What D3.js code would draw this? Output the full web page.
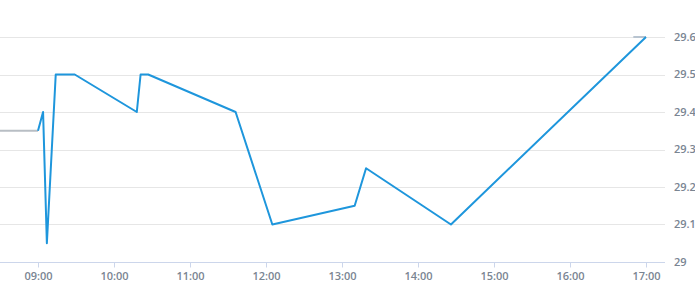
<!DOCTYPE html>
<html lang=en>
<meta charset=utf-8>
<title>Intraday price</title>
<style>
    body { margin: 0; background: #fff; }
    svg text { font-family: "Open Sans", sans-serif; font-size: 11px; font-weight: 600; fill: #7a8592; }
</style>
<svg id=chart width=695 height=300></svg>
<script src=https://d3js.org/d3.v7.min.js></script>
<script>
// price ticks (time of day, price)
var times  = ['09:00', '09:04', '09:07', '09:14', '09:29', '10:18', '10:21', '10:27', '11:36', '12:05', '13:10', '13:19', '14:26', '17:00'];
var prices = [29.35, 29.4, 29.05, 29.5, 29.5, 29.4, 29.5, 29.5, 29.4, 29.1, 29.15, 29.25, 29.1, 29.6];

// grey segments outside the session
var preTimes  = ['08:30', '09:00'];
var prePrices = [29.35, 29.35];
var postTimes  = ['16:50', '17:00'];
var postPrices = [29.6, 29.6];

var yTicks = [29, 29.1, 29.2, 29.3, 29.4, 29.5, 29.6];
var xTicks = ['09:00', '10:00', '11:00', '12:00', '13:00', '14:00', '15:00', '16:00', '17:00'];

var parse = d3.timeParse('%H:%M');

var svg = d3.select('#chart');
var plotW = 665, plotBottom = 262;

var x = d3.scaleTime().domain([parse('08:30'), parse('17:15')]).range([0, plotW]);
var y = d3.scaleLinear().domain([29, 29.6]).range([plotBottom, 37]);

// grid lines
svg.append('g')
    .selectAll('line')
    .data(yTicks.slice(1))
    .join('line')
    .attr('x1', 0).attr('x2', plotW)
    .attr('y1', function (d) { return Math.round(y(d)) + 0.5; })
    .attr('y2', function (d) { return Math.round(y(d)) + 0.5; })
    .attr('stroke', '#e6e6e6');

// y labels on the right
svg.append('g')
    .selectAll('text')
    .data(yTicks)
    .join('text')
    .attr('x', 674)
    .attr('y', function (d) { return y(d); })
    .attr('dy', '0.35em')
    .text(function (d) { return d3.format('~g')(d); });

// x axis
var xAxis = d3.axisBottom(x)
    .tickValues(xTicks.map(parse))
    .tickFormat(d3.timeFormat('%H:%M'))
    .tickSize(5)
    .tickPadding(5);

var gx = svg.append('g')
    .attr('transform', 'translate(0,' + (plotBottom + 0.5) + ')')
    .call(xAxis);
gx.select('.domain').attr('stroke', '#ccd6eb').attr('d', 'M0,0H' + plotW);
gx.selectAll('.tick line').attr('stroke', '#ccd6eb');
gx.selectAll('.tick text').attr('fill', null).attr('font-size', null).attr('font-family', null);
gx.attr('font-size', null).attr('font-family', null);

var line = d3.line()
    .x(function (d) { return x(d[0]); })
    .y(function (d) { return y(d[1]); });

function pairs(ts, vs) {
    return ts.map(function (t, i) { return [parse(t), vs[i]]; });
}

svg.append('path')
    .datum(pairs(preTimes, prePrices))
    .attr('fill', 'none')
    .attr('stroke', '#b8bec4')
    .attr('stroke-width', 2)
    .attr('d', line);

svg.append('path')
    .datum(pairs(postTimes, postPrices))
    .attr('fill', 'none')
    .attr('stroke', '#b8c4d0')
    .attr('stroke-width', 2)
    .attr('d', line);

svg.append('path')
    .datum(pairs(times, prices))
    .attr('fill', 'none')
    .attr('stroke', '#1e96dc')
    .attr('stroke-width', 2)
    .attr('stroke-linejoin', 'round')
    .attr('d', line);
</script>
